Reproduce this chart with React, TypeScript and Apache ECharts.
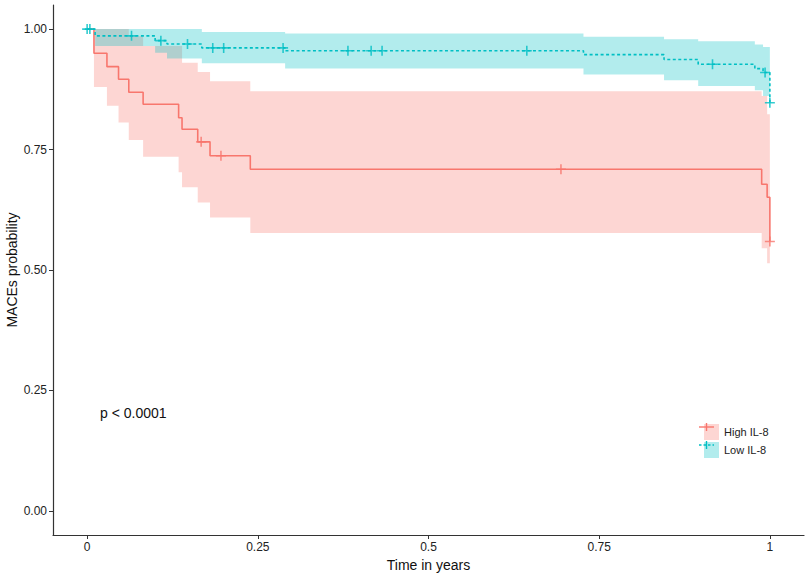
import React, { useEffect, useRef } from "react";
import * as echarts from "echarts";

// ---- Data ----
const xTicks = [0, 0.25, 0.5, 0.75, 1];
const yTicks = [0, 0.25, 0.5, 0.75, 1];

// High IL-8
const highTimes = [0, 0.01, 0.029, 0.046, 0.061, 0.082, 0.134, 0.139, 0.162, 0.18, 0.239, 0.988, 0.996, 1.0];
const highSurv = [1, 0.95, 0.922, 0.896, 0.869, 0.844, 0.816, 0.792, 0.766, 0.737, 0.709, 0.678, 0.651, 0.559];
const highLower = [1, 0.88, 0.841, 0.806, 0.77, 0.735, 0.703, 0.672, 0.64, 0.609, 0.577, 0.545, 0.514, 0.514];
const highUpper = [1, 1, 1, 1, 0.985, 0.965, 0.965, 0.93, 0.911, 0.892, 0.871, 0.861, 0.823, 0.823];
const highCensorT = [0.167, 0.196, 0.694, 1.0];
const highCensorS = [0.766, 0.737, 0.709, 0.559];

// Low IL-8
const lowTimes = [0, 0.0117, 0.0996, 0.117, 0.168, 0.29, 0.727, 0.845, 0.895, 0.978, 0.99, 1.0];
const lowSurv = [1, 0.986, 0.976, 0.969, 0.961, 0.955, 0.947, 0.937, 0.927, 0.918, 0.91, 0.847];
const lowLower = [1, 0.965, 0.951, 0.939, 0.929, 0.918, 0.906, 0.894, 0.882, 0.873, 0.861, 0.861];
const lowUpper = [1, 1, 1, 1, 0.994, 0.991, 0.984, 0.979, 0.975, 0.968, 0.963, 0.963];
const lowCensorT = [0, 0.004, 0.065, 0.108, 0.147, 0.184, 0.2, 0.287, 0.382, 0.416, 0.432, 0.644, 0.916, 0.993, 1.0];
const lowCensorS = [1, 1, 0.986, 0.976, 0.969, 0.961, 0.961, 0.961, 0.955, 0.955, 0.955, 0.955, 0.927, 0.91, 0.847];

const seriesNames = ["High IL-8", "Low IL-8"];
const pText = "p < 0.0001";

const RED = "#F8766D";
const CYAN = "#00BFC4";
const RED_BAND = "rgba(248,118,109,0.3)";
const CYAN_BAND = "rgba(0,191,196,0.3)";
const FONT = "Liberation Sans, Arial, sans-serif";
const CROSS = "path://M4.2,0H5.8V4.2H10V5.8H5.8V10H4.2V5.8H0V4.2H4.2Z";

const pairs = (xs: number[], ys: number[]) => xs.map((x, i) => [x, ys[i]]);
const triples = (xs: number[], lo: number[], hi: number[]) => xs.map((x, i) => [x, lo[i], hi[i]]);

export default function App() {
  const ref = useRef<HTMLDivElement>(null);
  useEffect(() => {
    document.body.style.margin = "0";
    if (!ref.current) return;
    const chart = echarts.init(ref.current, null, { renderer: "svg" });

    // Confidence band as one stepped polygon, positioned through the axes
    const band = (xs: number[], lo: number[], hi: number[], color: string) => ({
      type: "custom",
      data: triples(xs, lo, hi),
      encode: { x: 0, y: [1, 2] },
      silent: true,
      z: 1,
      renderItem: (params: any, api: any) => {
        if (params.dataIndex !== 0) return null;
        const n = xs.length;
        const pts: number[][] = [];
        for (let i = 0; i < n - 1; i++) {
          const t0 = api.value(0, i);
          const t1 = api.value(0, i + 1);
          const h = api.value(2, i);
          pts.push(api.coord([t0, h]));
          pts.push(api.coord([t1, h]));
        }
        for (let i = n - 2; i >= 0; i--) {
          const t0 = api.value(0, i);
          const t1 = api.value(0, i + 1);
          const l = api.value(1, i);
          pts.push(api.coord([t1, l]));
          pts.push(api.coord([t0, l]));
        }
        return { type: "polygon", shape: { points: pts }, style: { fill: color } };
      },
    });

    const legendKeyX = 699;
    const option: any = {
      animation: false,
      textStyle: { fontFamily: FONT },
      grid: { left: 53, right: 6, top: 5, bottom: 42, containLabel: false, outerBoundsMode: "none" },
      xAxis: {
        type: "value",
        min: -0.05,
        max: 1.05,
        name: "Time in years",
        nameLocation: "middle",
        nameGap: 23,
        nameTextStyle: { fontSize: 14, color: "#111", fontFamily: FONT },
        axisLine: { onZero: false, lineStyle: { color: "#333", width: 1.2 } },
        axisTick: { show: true, length: 4, lineStyle: { color: "#333" }, customValues: xTicks },
        axisLabel: {
          customValues: xTicks,
          margin: 6,
          fontSize: 12,
          color: "#222",
          fontFamily: FONT,
          formatter: (v: number) => String(v),
        },
        splitLine: { show: false },
      },
      yAxis: {
        type: "value",
        min: -0.05,
        max: 1.05,
        name: "MACEs probability",
        nameLocation: "middle",
        nameGap: 34,
        nameMoveOverlap: false,
        nameTextStyle: { fontSize: 14, color: "#111", fontFamily: FONT },
        axisLine: { show: true, onZero: false, lineStyle: { color: "#333", width: 1.2 } },
        axisTick: { show: true, length: 4, lineStyle: { color: "#333" }, customValues: yTicks },
        axisLabel: {
          customValues: yTicks,
          margin: 6,
          fontSize: 12,
          color: "#222",
          fontFamily: FONT,
          formatter: (v: number) => v.toFixed(2),
        },
        splitLine: { show: false },
      },
      legend: {
        orient: "vertical",
        left: legendKeyX,
        top: 419,
        itemWidth: 15,
        itemHeight: 16,
        itemGap: 2,
        selectedMode: false,
        textStyle: { fontSize: 11, color: "#222", fontFamily: FONT },
        data: [
          { name: seriesNames[0], icon: "rect", itemStyle: { color: RED_BAND, borderWidth: 0 } },
          { name: seriesNames[1], icon: "rect", itemStyle: { color: CYAN_BAND, borderWidth: 0 } },
        ],
      },
      series: [
        band(highTimes, highLower, highUpper, RED_BAND),
        band(lowTimes, lowLower, lowUpper, CYAN_BAND),
        {
          name: seriesNames[0],
          type: "line",
          step: "end",
          data: pairs(highTimes, highSurv),
          symbol: "none",
          lineStyle: { color: RED, width: 1.6 },
          itemStyle: { color: RED },
          z: 3,
        },
        {
          name: seriesNames[1],
          type: "line",
          step: "end",
          data: pairs(lowTimes, lowSurv),
          symbol: "none",
          lineStyle: { color: CYAN, width: 1.6, type: [3, 2.5] },
          itemStyle: { color: CYAN },
          z: 3,
        },
        {
          type: "scatter",
          data: pairs(highCensorT, highCensorS),
          symbol: CROSS,
          symbolSize: 10,
          itemStyle: { color: RED },
          silent: true,
          z: 4,
        },
        {
          type: "scatter",
          data: pairs(lowCensorT, lowCensorS),
          symbol: CROSS,
          symbolSize: 10,
          itemStyle: { color: CYAN },
          silent: true,
          z: 4,
        },
      ],
      graphic: [
        {
          type: "text",
          left: 100,
          top: 406,
          style: { text: pText, fontSize: 14, fill: "#111", font: "14px " + FONT },
          z: 100,
        },
        {
          type: "line",
          shape: { x1: legendKeyX, y1: 427, x2: legendKeyX + 15, y2: 427 },
          style: { stroke: RED, lineWidth: 1.4 },
          z: 100,
        },
        {
          type: "line",
          shape: { x1: legendKeyX + 7.5, y1: 423, x2: legendKeyX + 7.5, y2: 431 },
          style: { stroke: RED, lineWidth: 1.4 },
          z: 100,
        },
        {
          type: "line",
          shape: { x1: legendKeyX, y1: 445, x2: legendKeyX + 15, y2: 445 },
          style: { stroke: CYAN, lineWidth: 1.4, lineDash: [2.5, 2] },
          z: 100,
        },
        {
          type: "line",
          shape: { x1: legendKeyX + 7.5, y1: 441, x2: legendKeyX + 7.5, y2: 449 },
          style: { stroke: CYAN, lineWidth: 1.4 },
          z: 100,
        },
      ],
    };
    chart.setOption(option);
    return () => chart.dispose();
  }, []);
  return <div ref={ref} style={{ width: 810, height: 577 }} />;
}
